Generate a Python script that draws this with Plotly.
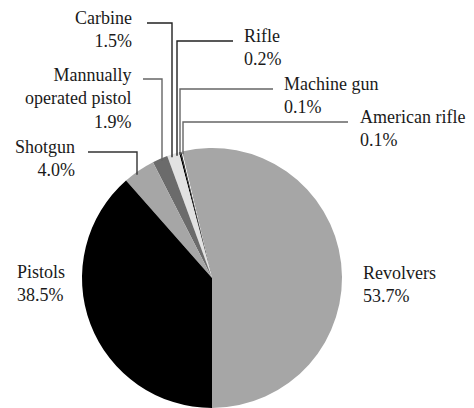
import math
import plotly.graph_objects as go

# ---- data ----
labels = ["Revolvers", "American rifle", "Machine gun", "Rifle", "Carbine",
          "Mannually operated pistol", "Shotgun", "Pistols"]
display_names = ["Revolvers", "American rifle", "Machine gun", "Rifle", "Carbine",
                 "Mannually<br>operated pistol", "Shotgun", "Pistols"]
values = [53.7, 0.1, 0.1, 0.2, 1.5, 1.9, 4.0, 38.5]
colors = ["#a6a6a6", "#ffffff", "#000000", "#000000", "#e2e2e2",
          "#6b6b6b", "#a6a6a6", "#000000"]

# ---- layout geometry (pixels) ----
W, H = 474, 408
cx, cy, R = 212, 278, 130

def px(x):
    return x / W

def py(y):
    return 1 - y / H

# label placement: (text x, block centre y, anchor side)
label_pos = {
    "Revolvers": (361, 284.5, "left"),
    "Pistols": (15, 283.5, "left"),
    "Shotgun": (77, 159, "right"),
    "Mannually operated pistol": (133, 98, "right"),
    "Carbine": (134, 30, "right"),
    "Rifle": (242, 47, "left"),
    "Machine gun": (282, 95, "left"),
    "American rifle": (358, 128.5, "left"),
}
# leader lines: (horizontal y, horizontal start x, vertical x, colour)
leaders = {
    "Carbine": (23, 147, 172, "#222222"),
    "Rifle": (41, 233, 177, "#222222"),
    "Mannually operated pistol": (79, 143, 162, "#666666"),
    "Machine gun": (89, 273, 180, "#666666"),
    "American rifle": (122, 348, 183, "#666666"),
    "Shotgun": (152, 88, 137, "#333333"),
}

# first slice (Revolvers) starts at 6 o'clock and runs counter-clockwise
total = sum(values)
rotation = 180 - values[0] / total * 360

fig = go.Figure(go.Pie(
    labels=labels,
    values=values,
    sort=False,
    direction="counterclockwise",
    rotation=rotation,
    marker=dict(colors=colors, line=dict(width=0)),
    textinfo="none",
    hoverinfo="label+percent",
    showlegend=False,
    domain=dict(x=[px(cx - R), px(cx + R)], y=[py(cy + R), py(cy - R)]),
))

font = dict(family="Liberation Serif", size=18, color="#1a1a1a")
annotations = []
for lab, name, v in zip(labels, display_names, values):
    x, y, side = label_pos[lab]
    annotations.append(dict(
        x=px(x), y=py(y), xref="paper", yref="paper",
        text=f"{name}<br>{v:.1f}%",
        showarrow=False, xanchor=side, yanchor="middle",
        align=side, font=font,
    ))

shapes = []
for lab, (hy, hx, vx, col) in leaders.items():
    dx = vx - cx
    end_y = cy - math.sqrt(max(R * R - dx * dx, 0)) + 3
    path = (f"M {px(hx)},{py(hy)} L {px(vx)},{py(hy)} L {px(vx)},{py(end_y)}")
    shapes.append(dict(type="path", path=path, xref="paper", yref="paper",
                       line=dict(color=col, width=1.4), layer="above"))

fig.update_layout(
    width=W, height=H,
    margin=dict(l=0, r=0, t=0, b=0),
    paper_bgcolor="white", plot_bgcolor="white",
    annotations=annotations, shapes=shapes,
)

fig.write_html("out.html", config={"displayModeBar": False},
               post_script="document.body.style.margin='0';")
